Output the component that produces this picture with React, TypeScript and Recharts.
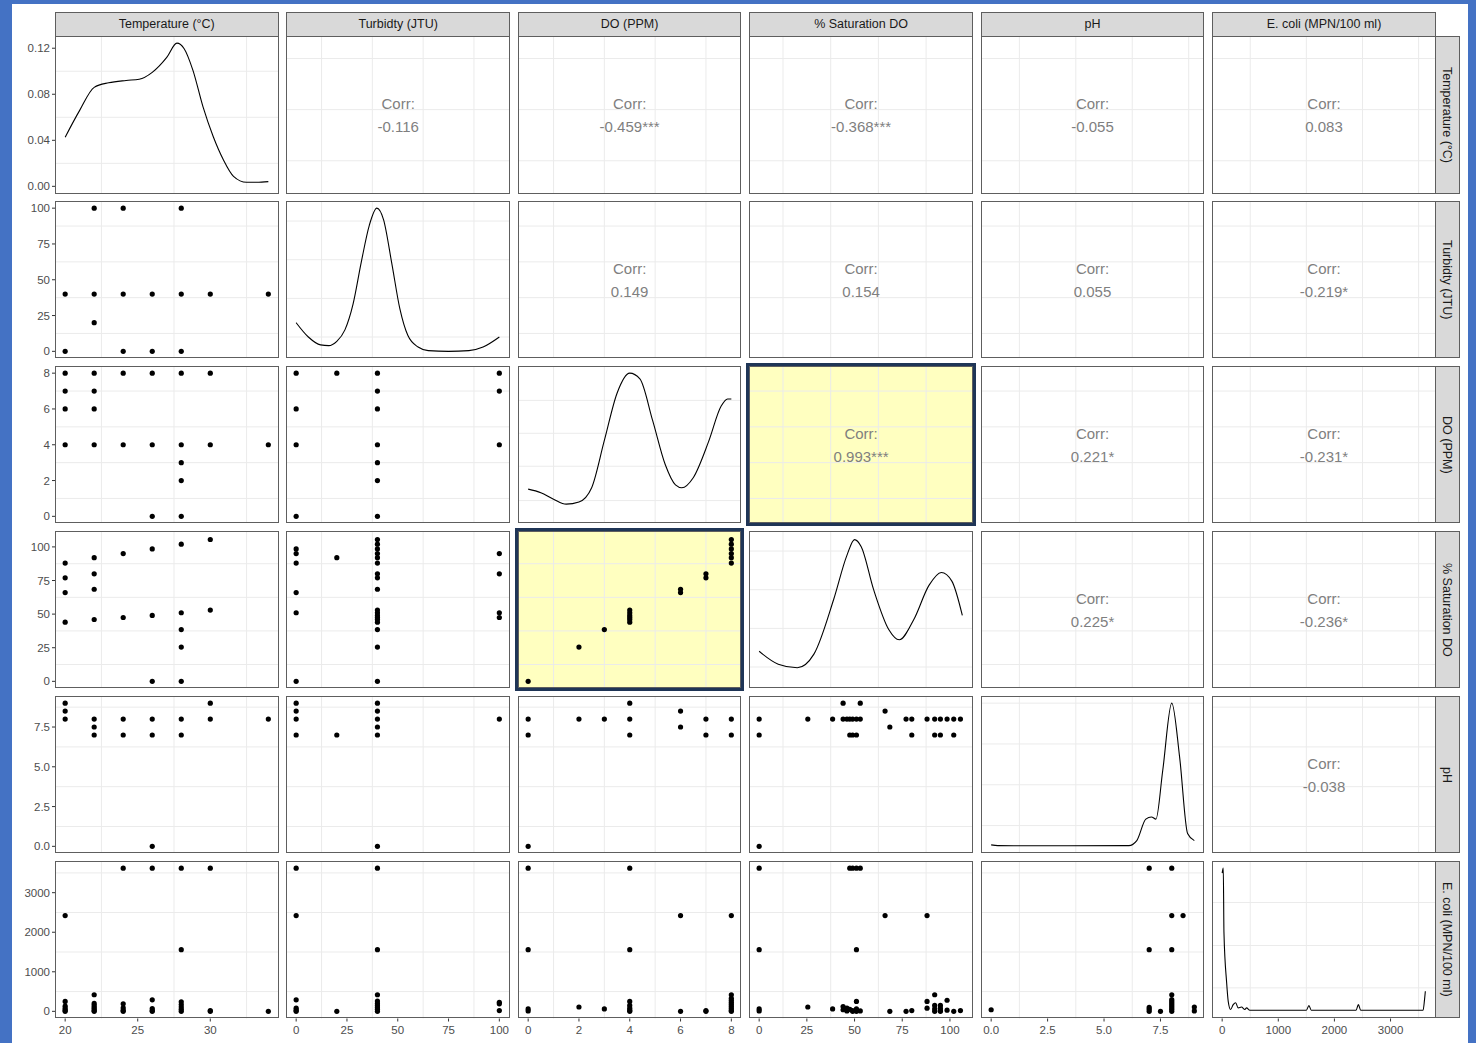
import React from 'react'
import { ComposedChart, Scatter, Line, XAxis, YAxis, CartesianGrid } from 'recharts'

const FONT = '"Liberation Sans", Arial, Helvetica, sans-serif'

// variables of the pairs matrix
const variables = ['Temperature (°C)', 'Turbidty (JTU)', 'DO (PPM)', '% Saturation DO', 'pH', 'E. coli (MPN/100 ml)']
const varMin = [20, 0, 0, 0, 0, 0]
const varMax = [34, 100, 8, 106.5, 9, 3620]
const varTicks = [
    [20, 25, 30],
    [0, 25, 50, 75, 100],
    [0, 2, 4, 6, 8],
    [0, 25, 50, 75, 100],
    [0, 2.5, 5, 7.5],
    [0, 1000, 2000, 3000]
]
const varMinor = [
    [22.5, 27.5, 32.5],
    [12.5, 37.5, 62.5, 87.5],
    [1, 3, 5, 7],
    [12.5, 37.5, 62.5, 87.5],
    [1.25, 3.75, 6.25, 8.75],
    [500, 1500, 2500, 3500]
]
const tickDecimals = [0, 0, 0, 0, 1, 0]

// diagonal densities (first in real units, others relative to their peak)
const densityMax = [0.1244, 1, 1, 1, 1, 1]
const densityTicks = [0, 0.04, 0.08, 0.12]
const densityMinor = [
    [0.02, 0.06, 0.1],
    [0.1, 0.37, 0.64, 0.91],
    [0.11, 0.35, 0.58, 0.81],
    [0.1, 0.37, 0.64, 0.91],
    [0.145, 0.43, 0.715, 1.0],
    [0.164, 0.46, 0.76]
]

const tempDensity = [
    [20, 0.0427], [21, 0.066], [22, 0.086], [23, 0.09], [24.2, 0.092], [25.1, 0.093], [26, 0.099],
    [27, 0.112], [27.7, 0.1244], [28.2, 0.1196], [28.8, 0.101], [29.5, 0.069], [30.2, 0.0433],
    [30.9, 0.0231], [31.6, 0.0087], [32.5, 0.0035], [33.2, 0.0035], [34, 0.0041]
]
const turbDensity = [
    [0, 0.2], [6, 0.1], [12, 0.045], [16, 0.04], [20, 0.07], [24, 0.15], [28, 0.33], [32, 0.62],
    [36, 0.88], [39.7, 1.0], [43, 0.92], [47, 0.62], [51, 0.3], [55, 0.11], [60, 0.03], [65, 0.005],
    [75, 0], [85, 0.005], [92, 0.03], [100, 0.1]
]
const doDensity = [
    [0, 0.19], [0.5, 0.165], [1, 0.12], [1.5, 0.085], [2, 0.1], [2.5, 0.2], [3, 0.53], [3.5, 0.86],
    [4, 1.0], [4.4, 0.96], [4.9, 0.67], [5.4, 0.36], [5.8, 0.22], [6.05, 0.2], [6.5, 0.27], [7.1, 0.52],
    [7.6, 0.77], [7.85, 0.82], [8, 0.82]
]
const satDensity = [
    [0, 0.21], [10, 0.12], [20, 0.095], [28.7, 0.19], [39, 0.57], [46, 0.88], [50, 0.99], [53.5, 0.94],
    [60, 0.64], [68, 0.36], [73.4, 0.29], [81, 0.43], [89, 0.67], [95.5, 0.76], [101, 0.7], [106.5, 0.46]
]
const phDensity = [
    [0, 0.01], [0.3, 0.005], [1, 0.004], [6.1, 0.005], [6.45, 0.04], [6.85, 0.19], [7.1, 0.205],
    [7.3, 0.19], [7.6, 0.53], [8.0, 1.0], [8.35, 0.62], [8.7, 0.09], [9, 0.04]
]
const ecoliDensity = [
    [0, 0.965], [20, 1.0], [32, 0.55], [80, 0.2], [108, 0.07], [150, 0.013], [197, 0.047], [240, 0.06],
    [286, 0.024], [345, 0.03], [405, 0.013], [435, 0.024], [493, 0.008], [1500, 0.008], [1546, 0.04],
    [1588, 0.008], [2386, 0.008], [2427, 0.047], [2468, 0.008], [3580, 0.008], [3605, 0.08], [3620, 0.14]
]
const densityCurves = [tempDensity, turbDensity, doDensity, satDensity, phDensity, ecoliDensity]

// lower panels: [x (column variable), y (row variable)]
const turbVsTemp = [
    [22, 100], [24, 100], [28, 100], [20, 40], [22, 40], [24, 40], [26, 40], [28, 40], [30, 40], [34, 40],
    [22, 20], [20, 0], [24, 0], [26, 0], [28, 0]
]
const doVsTemp = [
    [20, 8], [22, 8], [24, 8], [26, 8], [28, 8], [30, 8], [20, 7], [22, 7], [20, 6], [22, 6], [20, 4],
    [22, 4], [24, 4], [26, 4], [28, 4], [30, 4], [34, 4], [28, 3], [28, 2], [26, 0], [28, 0]
]
const doVsTurb = [
    [0, 8], [20, 8], [40, 8], [100, 8], [40, 7], [100, 7], [0, 6], [40, 6], [0, 4], [40, 4], [100, 4],
    [40, 3], [40, 2], [0, 0], [40, 0]
]
const satVsTemp = [
    [20, 88], [20, 77], [20, 66], [20, 44], [22, 92], [22, 80], [22, 68.5], [22, 46], [24, 95], [24, 47.5],
    [26, 98.5], [26, 49], [26, 0], [28, 102], [28, 51], [28, 38.5], [28, 25.5], [28, 0], [30, 105.5], [30, 53]
]
const satVsTurb = [
    [0, 98.5], [0, 95], [0, 88], [0, 66], [0, 51], [0, 0], [20, 92],
    [40, 105.5], [40, 102], [40, 98.5], [40, 95], [40, 92], [40, 88], [40, 80], [40, 77], [40, 68.5],
    [40, 53], [40, 51], [40, 49], [40, 47.5], [40, 46], [40, 44], [40, 38.5], [40, 25.5], [40, 0],
    [100, 95], [100, 80], [100, 51], [100, 47.5]
]
const satVsDo = [
    [0, 0], [2, 25.5], [3, 38.5], [4, 44], [4, 46], [4, 47.5], [4, 49], [4, 51], [4, 53], [6, 66], [6, 68.5],
    [7, 77], [7, 80], [8, 88], [8, 92], [8, 95], [8, 98.5], [8, 102], [8, 105.5]
]
const phVsTemp = [
    [20, 9], [20, 8.5], [20, 8], [22, 8], [22, 7.5], [22, 7], [24, 8], [24, 7], [26, 8], [26, 7], [26, 0],
    [28, 8], [28, 7], [30, 9], [30, 8], [34, 8]
]
const phVsTurb = [
    [0, 9], [0, 8.5], [0, 8], [0, 7], [20, 7], [40, 9], [40, 8.5], [40, 8], [40, 7.5], [40, 7], [40, 0], [100, 8]
]
const phVsDo = [
    [0, 8], [0, 7], [0, 0], [2, 8], [3, 8], [4, 9], [4, 8], [4, 7], [6, 8.5], [6, 7.5], [7, 8], [7, 7], [8, 8], [8, 7]
]
const phVsSat = [
    [0, 8], [0, 7], [0, 0], [25.5, 8], [38.5, 8], [44, 9], [53, 9], [44, 8], [46, 8], [47.5, 8], [49, 8],
    [51, 8], [53, 8], [66, 8.5], [68.5, 7.5], [77, 8], [80, 8], [88, 8], [92, 8], [95, 8], [98.5, 8],
    [102, 8], [105.5, 8], [47.5, 7], [49, 7], [51, 7], [80, 7], [92, 7], [95, 7], [102, 7]
]
const ecoliVsTemp = [
    [20, 2420], [20, 250], [20, 130], [20, 70], [20, 30], [20, 0],
    [22, 420], [22, 200], [22, 150], [22, 100], [22, 60], [22, 20], [22, 0],
    [24, 3620], [24, 190], [24, 90], [24, 30], [24, 0],
    [26, 3620], [26, 290], [26, 70], [26, 20], [26, 0],
    [28, 3620], [28, 1560], [28, 240], [28, 170], [28, 110], [28, 50], [28, 0],
    [30, 3620], [30, 20], [30, 0], [34, 0]
]
const ecoliVsTurb = [
    [0, 3620], [0, 2420], [0, 290], [0, 80], [0, 30], [0, 0], [20, 0],
    [40, 3620], [40, 1560], [40, 420], [40, 260], [40, 200], [40, 150], [40, 100], [40, 50], [40, 0],
    [100, 230], [100, 190], [100, 20]
]
const ecoliVsDo = [
    [0, 3620], [0, 1560], [0, 60], [0, 10], [2, 110], [3, 60],
    [4, 3620], [4, 1560], [4, 250], [4, 150], [4, 80], [4, 30], [4, 0],
    [6, 2420], [6, 0], [7, 20], [7, 0],
    [8, 2420], [8, 420], [8, 330], [8, 280], [8, 230], [8, 180], [8, 130], [8, 80], [8, 30], [8, 0]
]
const ecoliVsSat = [
    [0, 3620], [0, 1560], [0, 60], [0, 10], [25.5, 110], [38.5, 60],
    [44, 120], [44, 40], [46, 80], [46, 10], [47.5, 3620], [47.5, 50], [49, 3620], [49, 20], [49, 0],
    [51, 3620], [51, 1560], [51, 250], [51, 60], [51, 0], [53, 3620], [53, 10],
    [66, 2420], [68.5, 0], [77, 0], [80, 20], [88, 2420], [88, 250], [88, 80],
    [92, 420], [92, 150], [92, 60], [92, 0], [95, 150], [95, 80], [95, 20], [95, 0],
    [98.5, 280], [98.5, 30], [102, 0], [105.5, 20]
]
const ecoliVsPh = [
    [0, 40], [7, 3620], [7, 1560], [7, 100], [7, 50], [7, 0], [7.5, 0],
    [8, 3620], [8, 2420], [8, 1560], [8, 420], [8, 300], [8, 250], [8, 200], [8, 150], [8, 100], [8, 50], [8, 0],
    [8.5, 2420], [9, 110], [9, 10]
]

const scatterData: Record<string, number[][]> = {
    '1-0': turbVsTemp,
    '2-0': doVsTemp, '2-1': doVsTurb,
    '3-0': satVsTemp, '3-1': satVsTurb, '3-2': satVsDo,
    '4-0': phVsTemp, '4-1': phVsTurb, '4-2': phVsDo, '4-3': phVsSat,
    '5-0': ecoliVsTemp, '5-1': ecoliVsTurb, '5-2': ecoliVsDo, '5-3': ecoliVsSat, '5-4': ecoliVsPh
}

const corrText: Record<string, string> = {
    '0-1': '-0.116', '0-2': '-0.459***', '0-3': '-0.368***', '0-4': '-0.055', '0-5': '0.083',
    '1-2': '0.149', '1-3': '0.154', '1-4': '0.055', '1-5': '-0.219*',
    '2-3': '0.993***', '2-4': '0.221*', '2-5': '-0.231*',
    '3-4': '0.225*', '3-5': '-0.236*',
    '4-5': '-0.038'
}
const highlighted = ['2-3', '3-2']

// layout
const PW = 223.5
const PH = 157.5
const X0 = 55
const Y0 = 36
const DX = 231.45
const DY = 164.95
const AXW = 44
const AXH = 24

const expand = (lo: number, hi: number): [number, number] => {
    const d = (hi - lo) * 0.05
    return [lo - d, hi + d]
}
const toPts = (arr: number[][]) => arr.map(([x, y]) => ({ x, y }))
const Dot = (p: any) => <circle cx={p.cx} cy={p.cy} r={2.6} fill="#000" />

const tickStyle = { fill: '#4D4D4D', fontSize: 11.5, fontFamily: FONT }

function Panel({ r, c }: { r: number; c: number }) {
    const showY = c === 0
    const showX = r === 5
    const offL = showY ? AXW : 0
    const w = PW + offL
    const h = PH + (showX ? AXH : 0)
    const key = `${r}-${c}`
    const diag = r === c
    const lower = r > c
    const hl = highlighted.includes(key)
    const xDomain = expand(varMin[c], varMax[c])
    const yDomain = diag ? expand(0, densityMax[r]) : expand(varMin[r], varMax[r])
    const yTicks = diag ? densityTicks : varTicks[r]
    const yMinor = diag ? densityMinor[r] : varMinor[r]
    const yDec = diag ? 2 : tickDecimals[r]
    return (
        <div style={{ position: 'absolute', left: X0 + c * DX - offL, top: Y0 + r * DY, width: w, height: h }}>
            <div style={{ position: 'absolute', left: offL, top: 0, width: PW, height: PH, background: hl ? '#FFFFC0' : '#fff' }} />
            <div style={{ position: 'absolute', left: 0, top: 0 }}>
                <ComposedChart width={w} height={h} margin={{ top: 0, right: 0, bottom: 0, left: 0 }}>
                    <CartesianGrid stroke="#EBEBEB" strokeWidth={1} verticalValues={varMinor[c]} horizontalValues={yMinor} />
                    <XAxis
                        type="number" dataKey="x" domain={xDomain} ticks={varTicks[c]} allowDataOverflow
                        hide={!showX} height={AXH} interval={0} axisLine={false} tickSize={3} tickMargin={4}
                        tickLine={{ stroke: '#333' }} tick={tickStyle}
                        tickFormatter={(v: number) => v.toFixed(tickDecimals[c])}
                    />
                    <YAxis
                        type="number" dataKey="y" domain={yDomain} ticks={yTicks} allowDataOverflow
                        hide={!showY} width={AXW} interval={0} axisLine={false} tickSize={3} tickMargin={2}
                        tickLine={{ stroke: '#333' }} tick={tickStyle}
                        tickFormatter={(v: number) => v.toFixed(yDec)}
                    />
                    {diag && (
                        <Line data={toPts(densityCurves[r])} dataKey="y" type="monotone" stroke="#000"
                            strokeWidth={1.1} dot={false} isAnimationActive={false} />
                    )}
                    {lower && <Scatter data={toPts(scatterData[key])} shape={Dot} isAnimationActive={false} />}
                </ComposedChart>
            </div>
            <div style={{
                position: 'absolute', left: offL, top: 0, width: PW, height: PH,
                border: '1px solid #5E5E5E', boxSizing: 'border-box', pointerEvents: 'none'
            }} />
            {hl && (
                <div style={{
                    position: 'absolute', left: offL - 3, top: -3, width: PW + 6, height: PH + 6,
                    border: '3px solid #1F3556', boxSizing: 'border-box'
                }} />
            )}
            {corrText[key] && (
                <div style={{
                    position: 'absolute', left: offL, top: PH / 2 - 23, width: PW, textAlign: 'center',
                    fontFamily: FONT, fontSize: 15, lineHeight: '23px', color: '#7F7F7F'
                }}>
                    <div>Corr:</div>
                    <div>{corrText[key]}</div>
                </div>
            )}
        </div>
    )
}

export default function App() {
    const idx = [0, 1, 2, 3, 4, 5]
    return (
        <div style={{ position: 'absolute', left: 0, top: 0, width: 1476, height: 1043, background: '#4472C4', overflow: 'hidden' }}>
            <div style={{ position: 'absolute', left: 12, top: 4, width: 1456, height: 1039, background: '#fff' }} />
            {idx.map(c => (
                <div key={'t' + c} style={{
                    position: 'absolute', left: X0 + c * DX, top: 12, width: PW, height: 24, boxSizing: 'border-box',
                    background: '#D9D9D9', border: '1px solid #5E5E5E', borderBottom: 'none',
                    fontFamily: FONT, fontSize: 12.5, color: '#1A1A1A', textAlign: 'center', lineHeight: '23px'
                }}>{variables[c]}</div>
            ))}
            {idx.map(r => (
                <div key={'s' + r} style={{
                    position: 'absolute', left: X0 + 5 * DX + PW, top: Y0 + r * DY, width: 24, height: PH, boxSizing: 'border-box',
                    background: '#D9D9D9', border: '1px solid #5E5E5E', borderLeft: 'none',
                    display: 'flex', alignItems: 'center', justifyContent: 'center'
                }}>
                    <span style={{ writingMode: 'vertical-rl', fontFamily: FONT, fontSize: 12.5, color: '#1A1A1A', whiteSpace: 'nowrap' }}>
                        {variables[r]}
                    </span>
                </div>
            ))}
            {idx.map(r => idx.map(c => <Panel key={`${r}-${c}`} r={r} c={c} />))}
        </div>
    )
}
